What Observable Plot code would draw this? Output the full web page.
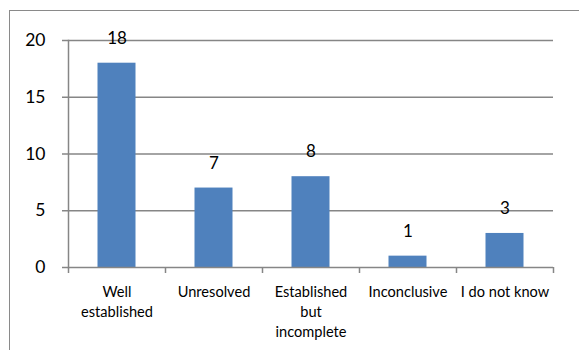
<!DOCTYPE html>
<html>
<head>
<meta charset="utf-8">
<script src="https://cdn.jsdelivr.net/npm/d3@7"></script>
<script src="https://cdn.jsdelivr.net/npm/@observablehq/plot@0.6"></script>
<style>
  html, body { margin: 0; padding: 0; background: #fff; overflow: hidden; }
  #wrap { position: relative; width: 579px; height: 350px; overflow: hidden; }
  #frame { position: absolute; left: 9px; top: 10px; width: 640px; height: 420px; border: 1px solid #8a8a8a; box-sizing: border-box; }
  #chart { position: absolute; left: 0; top: 0; }
</style>
</head>
<body>
<div id="wrap"><div id="frame"></div><div id="chart"></div></div>
<script>
const categories = ["Well established", "Unresolved", "Established but incomplete", "Inconclusive", "I do not know"];
const tickLabels = ["Well\nestablished", "Unresolved", "Established\nbut\nincomplete", "Inconclusive", "I do not know"];
const values = [18, 7, 8, 1, 3];
const yTicks = [0, 5, 10, 15, 20];

const data = categories.map((c, i) => ({category: c, value: values[i], label: tickLabels[i]}));
const gray = "#868686";
const font = "Lato, 'Open Sans', sans-serif";

const W = 579, H = 350, mL = 68, mR = 26;
const step = (W - mL - mR) / categories.length;

const chart = Plot.plot({
  width: W,
  height: H,
  marginLeft: mL,
  marginRight: mR,
  marginTop: 40,
  marginBottom: 83,
  style: {fontFamily: font, background: "transparent", overflow: "visible"},
  x: {domain: categories, padding: 0, axis: null},
  y: {domain: [0, 20], ticks: yTicks, axis: null},
  marks: [
    Plot.gridY(yTicks.filter(d => d > 0), {stroke: gray, strokeOpacity: 1, strokeWidth: 1.5, insetLeft: -6}),
    Plot.barY(data, {x: "category", y: "value", fill: "#4F81BD", insetLeft: 29.5, insetRight: 29.5}),
    Plot.ruleY([0], {stroke: gray, strokeWidth: 1.5, insetLeft: -6}),
    Plot.frame({anchor: "left", stroke: gray, strokeWidth: 1.5}),
    Plot.ruleX(data, {x: "category", y1: 0, y2: 0, dx: -step / 2, insetBottom: -6, stroke: gray, strokeWidth: 1.5}),
    Plot.ruleX(data.slice(-1), {x: "category", y1: 0, y2: 0, dx: step / 2, insetBottom: -6, stroke: gray, strokeWidth: 1.5}),
    Plot.text(yTicks, {x: () => categories[0], y: d => d, text: d => String(d), dx: -step / 2 - 23, textAnchor: "end", fontSize: 17.5, fill: "#000"}),
    Plot.text(data, {x: "category", y: "value", text: d => String(d.value), dy: -25, fontSize: 17, fill: "#000"}),
    Plot.text(data, {x: "category", y: () => 0, text: "label", dy: 15, lineAnchor: "top", lineHeight: 1.38, fontSize: 14.6, fill: "#000"})
  ]
});
document.getElementById("chart").appendChild(chart);
</script>
</body>
</html>
